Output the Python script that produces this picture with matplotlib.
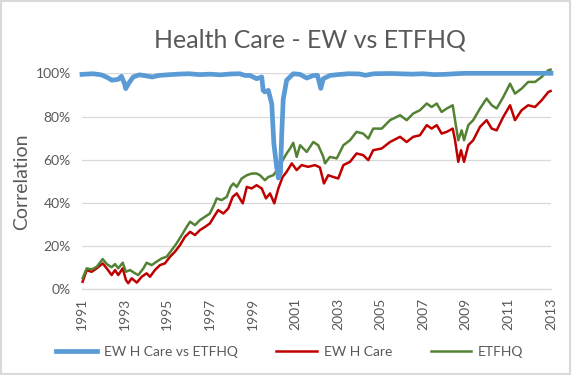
import matplotlib
matplotlib.use("Agg")
import matplotlib.pyplot as plt
from matplotlib.patches import Rectangle
import numpy as np

plt.rcParams['font.family'] = ['Lato', 'DejaVu Sans']

# correlation between the equal weight index and ETFHQ
corr_years = [1991.0, 1991.5, 1991.9, 1992.2, 1992.4, 1992.7, 1992.85, 1993.0, 1993.05,
              1993.2, 1993.4, 1993.7, 1994.0, 1994.3, 1994.6, 1995.0, 1995.5, 1996.0,
              1996.5, 1997.0, 1997.5, 1998.0, 1998.4, 1998.65, 1998.88, 1999.19, 1999.43,
              1999.5, 1999.58, 1999.74, 1999.82, 1999.9, 2000.0, 2000.13, 2000.21,
              2000.31, 2000.37, 2000.44, 2000.6, 2000.91, 2001.23, 2001.54, 2001.85,
              2002.05, 2002.2, 2002.32, 2002.63, 2003.0, 2003.5, 2004.0, 2004.3, 2004.7,
              2005.5, 2006.5, 2007.0, 2007.5, 2008.0, 2008.5, 2009.0, 2013.0]
corr_vals = [99.5, 99.8, 99.3, 98.0, 96.8, 97.2, 98.6, 95.0, 92.9,
             95.5, 98.3, 99.3, 98.8, 98.3, 99.0, 99.3, 99.6, 99.8,
             99.4, 99.6, 99.3, 99.7, 99.8, 99.0, 99.0, 97.5, 98.3,
             92.0, 91.4, 92.1, 89.0, 86.0, 67.5, 56.7, 51.5,
             54.0, 72.0, 88.0, 96.8, 99.8, 99.5, 97.8, 99.0,
             99.0, 93.0, 97.5, 99.0, 99.4, 99.8, 99.7, 99.1, 99.8,
             99.9, 99.6, 99.8, 99.4, 99.5, 99.8, 100.0, 100.0]

# EW H Care
ew_years = [1991.03, 1991.22, 1991.45, 1991.69, 1991.97, 1992.16, 1992.39, 1992.55, 1992.70,
            1992.91, 1993.06, 1993.17, 1993.33, 1993.57, 1993.80, 1994.03, 1994.19, 1994.42,
            1994.66, 1994.89, 1995.13, 1995.36, 1995.60, 1995.83, 1996.07, 1996.30, 1996.53,
            1996.77, 1997.00, 1997.19, 1997.39, 1997.63, 1997.86, 1998.07, 1998.26, 1998.54,
            1998.73, 1998.96, 1999.19, 1999.43, 1999.63, 1999.82, 2000.02, 2000.21, 2000.41,
            2000.60, 2000.84, 2001.07, 2001.30, 2001.61, 2001.93, 2002.16, 2002.35, 2002.55,
            2002.79, 2003.02, 2003.26, 2003.57, 2003.88, 2004.19, 2004.43, 2004.66, 2005.06,
            2005.45, 2005.92, 2006.23, 2006.54, 2006.85, 2007.17, 2007.40, 2007.64, 2007.87,
            2008.11, 2008.39, 2008.50, 2008.65, 2008.78, 2008.92, 2009.12, 2009.35, 2009.67,
            2009.98, 2010.22, 2010.45, 2010.76, 2011.08, 2011.31, 2011.62, 2011.93, 2012.25,
            2012.56, 2012.87, 2012.98]
ew_vals = [3.5, 8.9, 8.1, 9.7, 12.0, 9.7, 6.6, 8.9, 6.6,
           9.7, 4.3, 2.8, 5.1, 3.1, 5.8, 7.4, 5.8, 8.9,
           11.2, 12.0, 15.1, 17.4, 20.5, 24.3, 26.6, 25.1, 27.4,
           28.9, 30.5, 33.6, 36.7, 35.1, 37.4, 42.8, 44.4, 39.8,
           47.4, 46.7, 48.2, 46.7, 42.1, 44.4, 39.8, 46.7, 52.0,
           54.4, 58.3, 55.2, 57.5, 56.7, 57.5, 56.4, 49.0, 52.8,
           52.0, 51.3, 57.5, 59.0, 62.9, 62.1, 59.8, 64.4, 65.2,
           68.2, 70.6, 68.2, 70.6, 71.3, 76.0, 74.4, 76.0, 72.1,
           72.9, 74.4, 69.0, 59.0, 64.4, 59.0, 66.7, 69.0, 75.2,
           78.3, 74.4, 73.6, 79.8, 85.2, 78.3, 82.9, 85.2, 84.4,
           87.5, 91.3, 91.8]

# ETFHQ
etf_years = [1991.03, 1991.22, 1991.45, 1991.69, 1991.97, 1992.16, 1992.39, 1992.55, 1992.70,
             1992.91, 1993.06, 1993.25, 1993.49, 1993.64, 1993.88, 1994.03, 1994.27, 1994.50,
             1994.74, 1994.97, 1995.21, 1995.44, 1995.68, 1995.91, 1996.07, 1996.30, 1996.53,
             1996.77, 1997.00, 1997.19, 1997.32, 1997.55, 1997.79, 1997.97, 1998.10, 1998.26,
             1998.49, 1998.73, 1998.96, 1999.19, 1999.35, 1999.58, 1999.74, 1999.97, 2000.21,
             2000.37, 2000.60, 2000.76, 2000.91, 2001.07, 2001.23, 2001.54, 2001.85, 2002.08,
             2002.32, 2002.40, 2002.63, 2002.95, 2003.26, 2003.57, 2003.88, 2004.19, 2004.43,
             2004.66, 2005.06, 2005.45, 2005.92, 2006.23, 2006.54, 2006.85, 2007.17, 2007.40,
             2007.64, 2007.87, 2008.11, 2008.39, 2008.50, 2008.65, 2008.81, 2008.92, 2009.12,
             2009.35, 2009.67, 2009.98, 2010.22, 2010.45, 2010.76, 2011.08, 2011.31, 2011.62,
             2011.93, 2012.25, 2012.56, 2012.87, 2012.98]
etf_vals = [5.1, 9.7, 9.2, 10.4, 14.0, 11.7, 10.2, 11.7, 9.7,
            12.3, 8.1, 8.9, 7.4, 6.6, 9.7, 12.3, 11.2, 12.8,
            14.3, 15.1, 18.2, 21.3, 25.1, 28.9, 31.3, 29.7, 32.0,
            33.6, 35.1, 39.0, 42.1, 41.3, 42.8, 47.4, 49.0, 47.4,
            51.3, 52.8, 53.6, 53.6, 52.8, 50.5, 52.0, 52.8, 55.9,
            59.0, 62.9, 65.2, 67.8, 61.3, 66.7, 63.6, 68.2, 66.7,
            61.3, 58.3, 61.3, 60.6, 66.7, 69.0, 72.9, 72.1, 69.8,
            74.4, 74.4, 78.3, 80.6, 78.3, 81.4, 82.9, 86.0, 84.4,
            86.0, 82.1, 83.7, 85.2, 78.3, 69.0, 73.6, 69.0, 76.0,
            78.3, 83.7, 88.3, 85.2, 83.7, 89.0, 95.2, 90.6, 92.9,
            96.0, 96.0, 98.3, 101.4, 101.7]

year_ticks = list(range(1991, 2014, 2))
pct_ticks = [0, 20, 40, 60, 80, 100]

text_col = '#595959'
grid_col = '#D9D9D9'

fig = plt.figure(figsize=(5.72, 3.75), dpi=100)
ax = fig.add_axes([82 / 572, 85.7 / 375, 469 / 572, 216 / 375])

ax.plot(corr_years, np.array(corr_vals) / 100, color='#5B9BD5', lw=3.4,
        label='EW H Care vs ETFHQ', clip_on=False, zorder=3)
ax.plot(ew_years, np.array(ew_vals) / 100, color='#C00000', lw=1.8,
        label='EW H Care', clip_on=False, zorder=2)
ax.plot(etf_years, np.array(etf_vals) / 100, color='#548235', lw=1.8,
        label='ETFHQ', clip_on=False, zorder=2)

ax.set_xlim(1991, 2013)
ax.set_ylim(0, 1)
ax.set_xticks(year_ticks)
ax.set_xticklabels([str(y) for y in year_ticks], rotation=90)
ax.set_yticks([p / 100 for p in pct_ticks])
ax.set_yticklabels(['%d%%' % p for p in pct_ticks])
ax.tick_params(axis='both', length=0, colors=text_col, labelsize=10)
ax.tick_params(axis='x', pad=6)
ax.tick_params(axis='y', pad=8)
ax.grid(axis='y', color=grid_col, lw=0.9)
ax.set_axisbelow(True)
for s in ['top', 'right', 'left']:
    ax.spines[s].set_visible(False)
ax.spines['bottom'].set_color(grid_col)
ax.spines['bottom'].set_linewidth(0.9)

ax.set_ylabel('Correlation', fontsize=14, color=text_col, labelpad=4)
fig.text(310 / 572, 1 - 40 / 375, 'Health Care - EW vs ETFHQ', ha='center', va='center',
         fontsize=18, color=text_col)

leg = fig.legend(loc='center', bbox_to_anchor=(290 / 572, 1 - 352 / 375), ncol=3,
                 frameon=False, fontsize=10, handlelength=2.9, columnspacing=2.8,
                 handletextpad=0.5)
for t in leg.get_texts():
    t.set_color(text_col)

fig.patches.append(Rectangle((0.002, 0.003), 0.995, 0.994, transform=fig.transFigure,
                             fill=False, edgecolor='#D9D9D9', lw=1.5))

fig.savefig('out.png', dpi=100)
